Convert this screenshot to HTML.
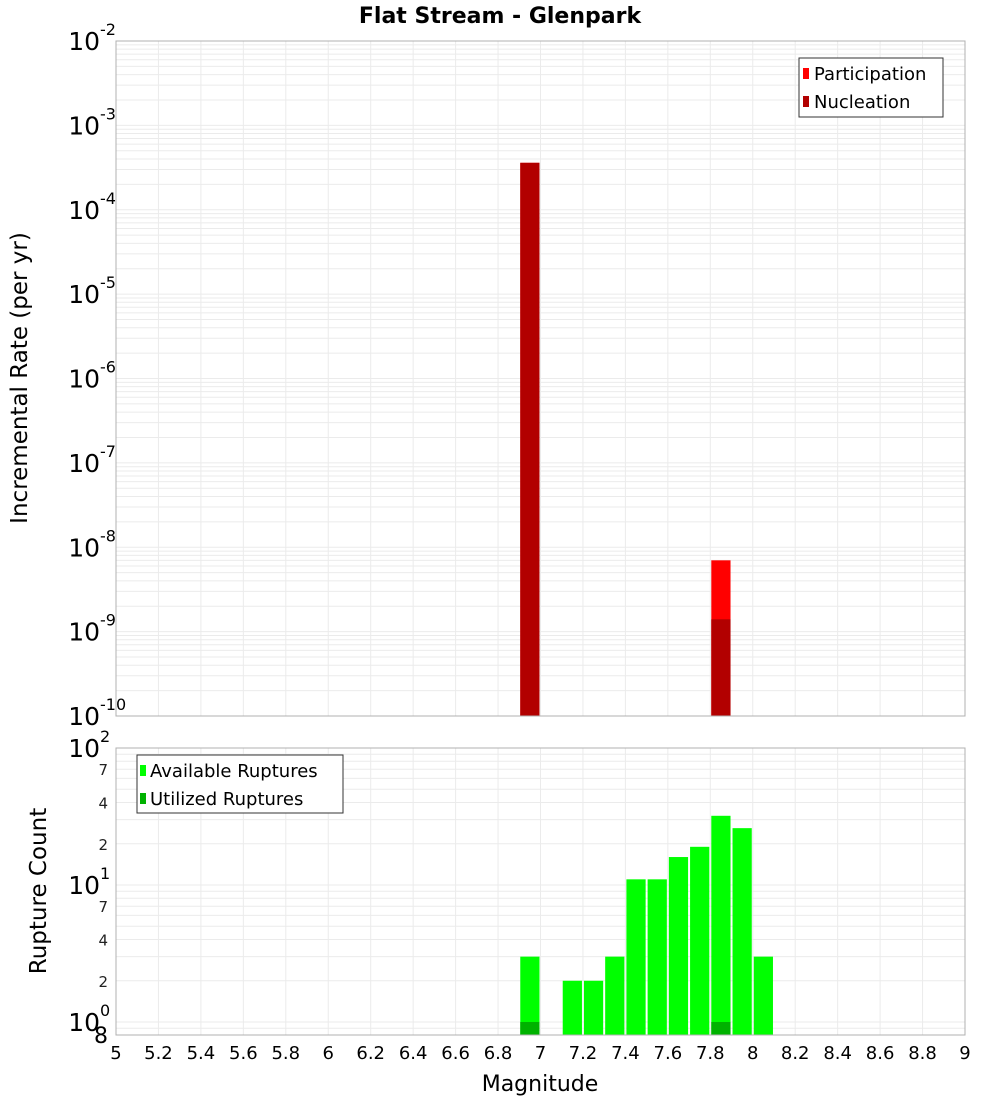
<!DOCTYPE html>
<html><head><meta charset="utf-8"><style>
body{margin:0;background:#fff}
svg{display:block;font-family:"DejaVu Sans","Liberation Sans",sans-serif}
</style></head><body>
<svg id="chart" width="1000" height="1100" viewBox="0 0 1000 1100" xmlns="http://www.w3.org/2000/svg">
<rect width="1000" height="1100" fill="#fff"/>
<text x="500" y="23" text-anchor="middle" font-size="22" font-weight="bold">Flat Stream - Glenpark</text>
<g id="topg"></g>
<g id="botg"></g>
<text transform="translate(27,378) rotate(-90)" text-anchor="middle" font-size="23">Incremental Rate (per yr)</text>
<text transform="translate(46,891) rotate(-90)" text-anchor="middle" font-size="23">Rupture Count</text>
<text x="540" y="1091" text-anchor="middle" font-size="22">Magnitude</text>
</svg>
<script>
const rateMags = [6.95, 7.85];
const participation = [3.6e-4, 7e-9];
const nucleation = [3.6e-4, 1.4e-9];
const countMags = [6.95, 7.15, 7.25, 7.35, 7.45, 7.55, 7.65, 7.75, 7.85, 7.95, 8.05];
const available = [3, 2, 2, 3, 11, 11, 16, 19, 32, 26, 3];
const utilizedMags = [6.95, 7.85];
const utilized = [1, 1];
const xTicks = [5,5.2,5.4,5.6,5.8,6,6.2,6.4,6.6,6.8,7,7.2,7.4,7.6,7.8,8,8.2,8.4,8.6,8.8,9];

const NS = "http://www.w3.org/2000/svg";
const L = 116, R = 965;
const X = m => L + (m - 5) / 4 * (R - L);
const T1 = 41, B1 = 716;
const Y1 = v => B1 - (Math.log10(v) + 10) / 8 * (B1 - T1);
const Y2 = v => 1022 - Math.log10(v) * 137;
const T2 = 748, B2 = 1035;
function el(p, tag, at, txt){const e=document.createElementNS(NS,tag);for(const k in at)e.setAttribute(k,at[k]);if(txt!==undefined)e.textContent=txt;p.appendChild(e);return e;}
const topG = document.getElementById('topg'), botG = document.getElementById('botg');

for (let d=-10; d<-2; d++) for (let k=1;k<10;k++){const y=Y1(k*Math.pow(10,d)); if(y<T1) continue;
  const g=el(topG,'line',{x1:L,x2:R,y1:y,y2:y,stroke:'#ebebeb','stroke-width':1});
   }
for (const t of xTicks){const g=el(topG,'line',{x1:X(t),x2:X(t),y1:T1,y2:B1,stroke:'#ebebeb'});
   
  const g2=el(botG,'line',{x1:X(t),x2:X(t),y1:T2,y2:B2,stroke:'#ebebeb'});
   }
rateMags.forEach((m,i)=>{
  const p=el(topG,'rect',{x:X(m-0.05)+1,y:Y1(participation[i]),width:X(m+0.05)-X(m-0.05)-2,height:B1-Y1(participation[i]),fill:'#ff0000'});
   
  const n=el(topG,'rect',{x:X(m-0.05)+1,y:Y1(nucleation[i]),width:X(m+0.05)-X(m-0.05)-2,height:B1-Y1(nucleation[i]),fill:'#b20000'});
   
});
const f1=el(topG,'rect',{x:L,y:T1,width:R-L,height:B1-T1,fill:'none',stroke:'#b0b0b0'});
 
for (let d=-10; d<=-2; d++){const y=Y1(Math.pow(10,d));
  const t=el(topG,'text',{x:100,y:y+9,'text-anchor':'end','font-size':25},'10');
   
  const s=el(topG,'text',{x:100,y:y-6,'font-size':16},String(d));
   }
const lg=el(topG,'g',{});
 
el(lg,'rect',{x:799,y:58,width:144,height:59,fill:'#fff',stroke:'#333'});
el(lg,'rect',{x:803,y:68,width:6,height:11,fill:'#ff0000'});
el(lg,'text',{x:814,y:80,'font-size':18},'Participation');
el(lg,'rect',{x:803,y:96,width:6,height:11,fill:'#b20000'});
el(lg,'text',{x:814,y:108,'font-size':18},'Nucleation');

for (let d=-1; d<2; d++) for (let k=1;k<10;k++){const v=k*Math.pow(10,d); const y=Y2(v); if(y>B2||y<T2) continue;
  const g=el(botG,'line',{x1:L,x2:R,y1:y,y2:y,stroke:'#ebebeb'});
   }
countMags.forEach((m,i)=>{
  const b=el(botG,'rect',{x:X(m-0.05)+1,y:Y2(available[i]),width:X(m+0.05)-X(m-0.05)-2,height:B2-Y2(available[i]),fill:'#00ff00'});
   });
utilizedMags.forEach((m,i)=>{
  const b=el(botG,'rect',{x:X(m-0.05)+1,y:Y2(utilized[i]),width:X(m+0.05)-X(m-0.05)-2,height:B2-Y2(utilized[i]),fill:'#00b200'});
   });
const f2=el(botG,'rect',{x:L,y:T2,width:R-L,height:B2-T2,fill:'none',stroke:'#b0b0b0'});
 
for (let d=0; d<=2; d++){const y=Y2(Math.pow(10,d));
  const t=el(botG,'text',{x:100,y:y+9,'text-anchor':'end','font-size':25},'10');
   
  const s=el(botG,'text',{x:100,y:y-6,'font-size':16},String(d));
   }
for (const v of [2,4,7,20,40,70]){const t=el(botG,'text',{x:108,y:Y2(v)+6,'text-anchor':'end','font-size':15,fill:'#222'},String(v).charAt(0));
   }
const e8=el(botG,'text',{x:108,y:1043,'text-anchor':'end','font-size':22},'8');
 
for (const t of xTicks){const tx=el(botG,'text',{x:X(t),y:1059,'text-anchor':'middle','font-size':18},String(t));
   }
const lg2=el(botG,'g',{});
 
el(lg2,'rect',{x:137,y:755,width:206,height:58,fill:'#fff',stroke:'#333'});
el(lg2,'rect',{x:140,y:765,width:6,height:11,fill:'#00ff00'});
el(lg2,'text',{x:150,y:777,'font-size':18},'Available Ruptures');
el(lg2,'rect',{x:140,y:793,width:6,height:11,fill:'#00b200'});
el(lg2,'text',{x:150,y:805,'font-size':18},'Utilized Ruptures');
</script>
</body></html>
